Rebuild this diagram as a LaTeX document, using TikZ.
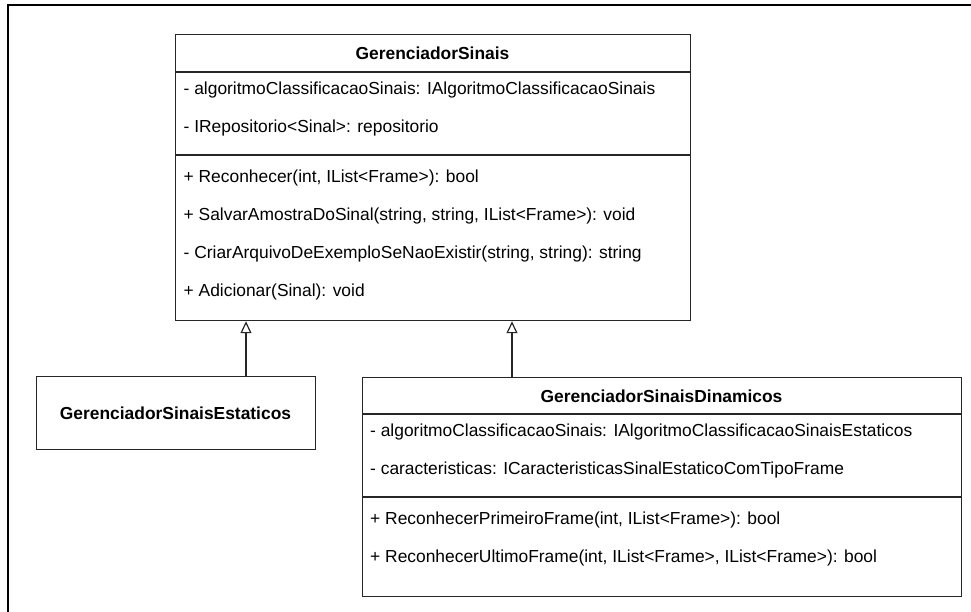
\documentclass[tikz,border=0pt]{standalone}
\usepackage{fontspec}
\setmainfont{Liberation Sans}
\usepackage{tikz}
\usetikzlibrary{positioning,arrows.meta}

\begin{document}
\begin{tikzpicture}[x=1pt, y=-1pt,
  cls/.style={draw=black!85, line width=1.2pt, rectangle, anchor=north west, inner sep=0pt},
  cname/.style={font=\fontsize{17.4}{20}\selectfont\bfseries, inner sep=0pt},
  mbr/.style={font=\fontsize{17.4}{20}\selectfont, anchor=mid west, inner sep=0pt},
  sep/.style={draw=black!85, line width=1.2pt},
  inh/.style={-{Triangle[open, length=12pt, width=11pt]}, line width=1.2pt, draw=black!85},
]
  \useasboundingbox (0,0) rectangle (971,611);
  % outer frame (open to the right and bottom)
  \draw[line width=2.5pt] (990,5) -- (8,5) -- (8,630);

  % GerenciadorSinais
  \node[cls, minimum width=515pt, minimum height=286pt] (gs) at (175,34) {};
  \node[cname] (gsname) at (432.5,53.5) {GerenciadorSinais};
  \draw[sep] (gs.west |- 0,72) -- (gs.east |- 0,72);
  \draw[sep] (gs.west |- 0,155) -- (gs.east |- 0,155);
  \node[mbr] (gsa1) at (183.5,92) {- algoritmoClassificacaoSinais: IAlgoritmoClassificacaoSinais};
  \node[mbr] (gsa2) at (183.5,130) {- IRepositorio<Sinal>: repositorio};
  \node[mbr] (gsm1) at (183.5,180) {+ Reconhecer(int, IList<Frame>): bool};
  \node[mbr] (gsm2) at (183.5,218) {+ SalvarAmostraDoSinal(string, string, IList<Frame>): void};
  \node[mbr] (gsm3) at (183.5,256) {- CriarArquivoDeExemploSeNaoExistir(string, string): string};
  \node[mbr] (gsm4) at (183.5,294) {+ Adicionar(Sinal): void};

  % GerenciadorSinaisEstaticos
  \node[cls, minimum width=279pt, minimum height=73pt] (gse) at (36,376) {};
  \node[cname] (gsename) at (175.5,413) {GerenciadorSinaisEstaticos};

  % GerenciadorSinaisDinamicos
  \node[cls, minimum width=599pt, minimum height=219pt] (gsd) at (362,377) {};
  \node[cname] (gsdname) at (661.5,396.5) {GerenciadorSinaisDinamicos};
  \draw[sep] (gsd.west |- 0,414) -- (gsd.east |- 0,414);
  \draw[sep] (gsd.west |- 0,497) -- (gsd.east |- 0,497);
  \node[mbr] (gsda1) at (370,434) {- algoritmoClassificacaoSinais: IAlgoritmoClassificacaoSinaisEstaticos};
  \node[mbr] (gsda2) at (370,472) {- caracteristicas: ICaracteristicasSinalEstaticoComTipoFrame};
  \node[mbr] (gsdm1) at (370,522) {+ ReconhecerPrimeiroFrame(int, IList<Frame>): bool};
  \node[mbr] (gsdm2) at (370,560) {+ ReconhecerUltimoFrame(int, IList<Frame>, IList<Frame>): bool};

  % generalizacao
  \draw[inh] (gse.north -| 246,0) -- (gs.south -| 246,0);
  \draw[inh] (gsd.north -| 512,0) -- (gs.south -| 512,0);
\end{tikzpicture}
\end{document}
